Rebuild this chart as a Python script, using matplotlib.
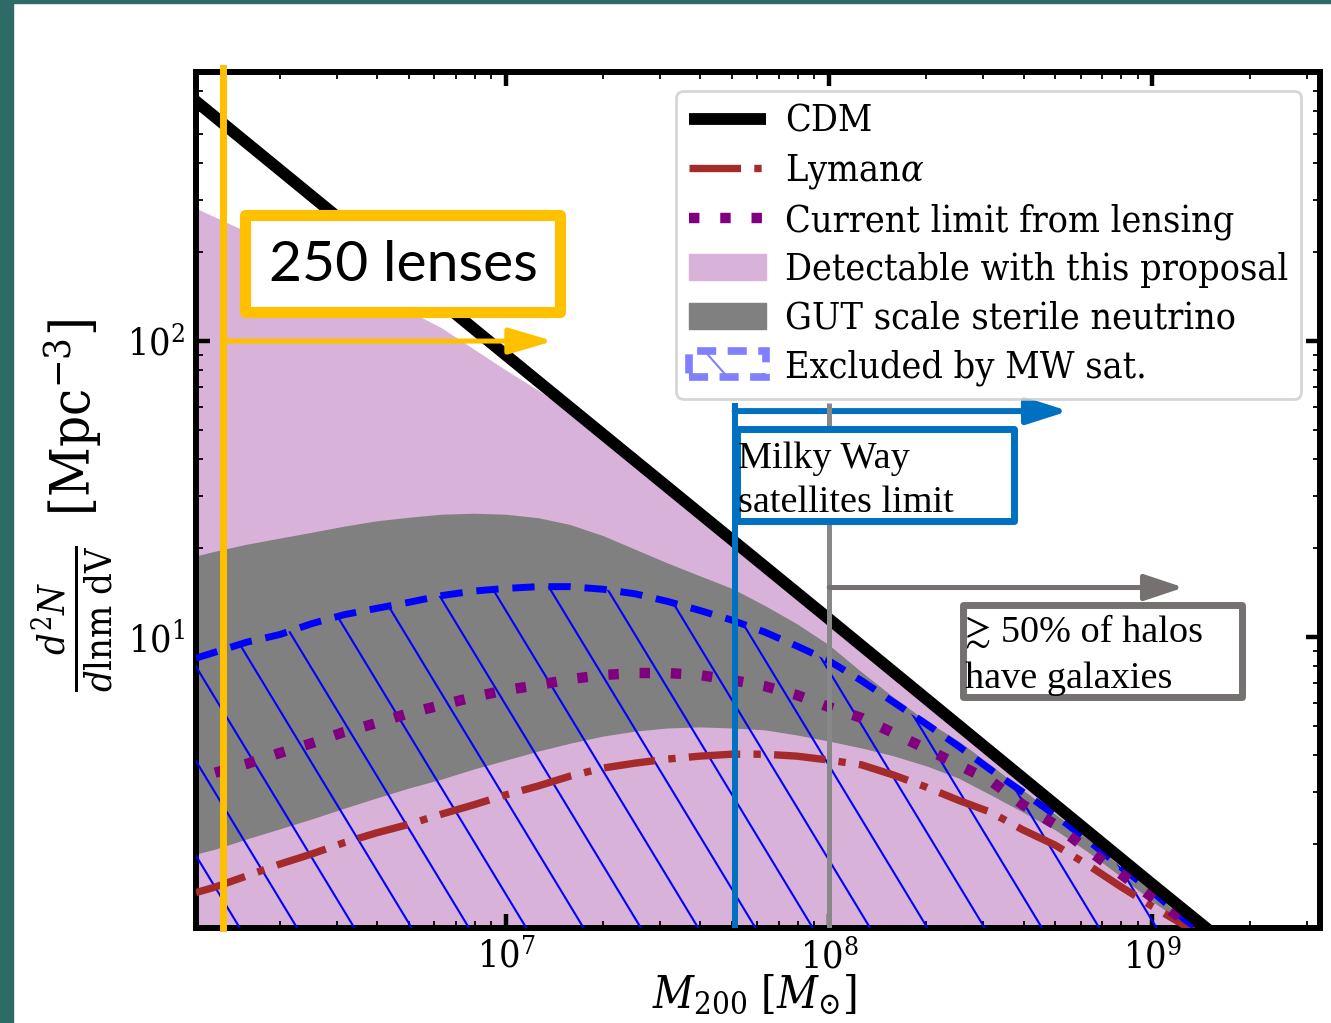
import numpy as np
import matplotlib
matplotlib.use("Agg")
import matplotlib.pyplot as plt
from matplotlib.patches import Rectangle, Patch
from matplotlib.lines import Line2D
from matplotlib.collections import LineCollection
from matplotlib.legend_handler import HandlerBase

plt.rcParams["font.family"] = ["DejaVu Serif"]
plt.rcParams["font.stretch"] = "condensed"
plt.rcParams["mathtext.fontset"] = "dejavuserif"

# ---------------- data ----------------
# halo mass grid [M_sun]
mass = [1.1e6, 1.26e6, 1.58e6, 2.0e6, 2.51e6, 3.16e6, 3.98e6, 5.01e6, 6.31e6, 7.94e6,
        1.0e7, 1.26e7, 1.58e7, 2.0e7, 2.51e7, 3.16e7, 3.98e7, 5.01e7, 6.31e7, 7.94e7,
        1.0e8, 1.26e8, 1.58e8, 2.0e8, 2.51e8, 3.16e8, 3.98e8, 5.01e8, 6.31e8, 7.94e8,
        1.0e9, 1.26e9, 1.41e9]

# CDM mass function (power law)
cdm_mass = [1e6, 1e7, 1e8, 1e9, 2e9]
cdm = [703, 89.7, 11.5, 1.46, 0.79]

# Lyman-alpha forest bound
lyman_alpha = [1.37, 1.43, 1.56, 1.71, 1.85, 2.02, 2.18, 2.33, 2.52, 2.71,
               2.93, 3.14, 3.39, 3.61, 3.75, 3.87, 3.96, 4.02, 4.02, 3.96,
               3.84, 3.70, 3.42, 3.11, 2.81, 2.56, 2.23, 1.98, 1.70, 1.44,
               1.23, 1.06, 0.98]

# current limit from strong lensing (starts at the second grid mass)
lensing_limit = [3.48, 3.73, 4.06, 4.38, 4.78, 5.12, 5.53, 5.89, 6.27,
                 6.62, 6.88, 7.21, 7.44, 7.56, 7.56, 7.44, 7.16, 6.83, 6.37,
                 5.80, 5.33, 4.74, 4.19, 3.70, 3.27, 2.71, 2.32, 1.91, 1.59,
                 1.32, 1.10, 1.01]

# Milky Way satellite exclusion
mw_sat = [8.49, 8.89, 9.61, 10.2, 11.1, 11.9, 12.5, 13.1, 13.8, 14.3,
          14.6, 14.8, 14.8, 14.5, 14.0, 13.2, 12.3, 11.4, 10.4, 9.33,
          8.30, 7.12, 6.03, 5.08, 4.28, 3.56, 2.99, 2.50, 2.06, 1.68,
          1.38, 1.11, 1.02]

# GUT-scale sterile neutrino band
gut_hi = [18.8, 19.5, 20.6, 21.6, 22.6, 23.7, 24.7, 25.4, 26.0, 26.2,
          26.0, 25.3, 24.0, 22.0, 19.8, 17.8, 16.1, 14.6, 12.8, 11.1,
          9.40, 7.62, 6.27, 5.20, 4.46, 3.70, 3.04, 2.52, 2.08, 1.68,
          1.38, 1.11, 1.00]
gut_lo = [1.85, 1.92, 2.08, 2.25, 2.43, 2.64, 2.86, 3.09, 3.31, 3.58,
          3.84, 4.12, 4.38, 4.63, 4.81, 4.93, 4.97, 4.93, 4.86, 4.67,
          4.45, 4.22, 3.97, 3.67, 3.34, 2.93, 2.56, 2.23, 1.88, 1.56,
          1.28, 1.07, 0.99]

# region detectable with the proposed survey
detect_mass = [1.1e6, 1.58e6, 2.51e6, 3.98e6, 6.31e6, 1.0e7, 1.26e7, 1.58e7,
               2.51e7, 3.98e7, 6.31e7, 1.0e8, 1.58e8, 2.51e8, 3.98e8, 6.31e8,
               1.0e9, 1.58e9]
detectable = [281, 234, 184, 144, 111, 79.8, 68.2, 57.2,
              37.8, 25.0, 16.6, 11.0, 7.29, 4.83, 3.20, 2.12,
              1.40, 0.93]

# limits marked on the plot
lens_mass_limit = 1.33e6
mw_mass_limit = 5.1e7
galaxy_mass_limit = 1.0e8

x_range = (1.1e6, 3.3e9)
y_range = (1.04, 811)

# ---------------- colours ----------------
PINK = "#d9b2d9"
GUT = "#808080"
YELLOW = "#ffc000"
SLIDE_BLUE = "#0070c0"
SLIDE_GRAY = "#767171"
TEAL = "#2f6b66"

fig = plt.figure(figsize=(13.31, 10.23), dpi=100)
fig.patch.set_facecolor("white")
ax = fig.add_axes([196 / 1331, 1 - 928 / 1023, 1124 / 1331, 856 / 1023])
ax.set_xscale("log")
ax.set_yscale("log")
ax.set_xlim(*x_range)
ax.set_ylim(*y_range)

floor = 0.5
ax.fill_between(detect_mass, floor, detectable, color=PINK, lw=0, zorder=1)
ax.fill_between(mass, gut_lo, gut_hi, color=GUT, lw=0, zorder=2)

# sparse diagonal hatching under the MW-satellite curve
hatch_region = ax.fill_between(mass, floor, mw_sat, facecolor="none",
                               edgecolor="none", zorder=3)
fw, fh = fig.get_size_inches() * fig.dpi
pos = ax.get_position()
ax_w, ax_h = pos.width * fw, pos.height * fh
steep = 1.65
step = 57.3 / ax_w
shift = ax_h / steep / ax_w
starts = 0.039 + step * np.arange(-1, 32)
segs = [[(b, 0.0), (b - shift, 1.0)] for b in starts]
hatch = LineCollection(segs, transform=ax.transAxes, colors="blue",
                       linewidths=1.5, zorder=3)
ax.add_collection(hatch, autolim=False)
hatch.set_clip_path(hatch_region.get_paths()[0], ax.transData)

ln_lya, = ax.plot(mass, lyman_alpha, color="brown", lw=5.3,
                  dashes=(7, 1.8, 1, 1.8), zorder=4)
ln_mw, = ax.plot(mass, mw_sat, color="blue", lw=5,
                 dashes=(3.2, 2.0), zorder=4)
ln_lens, = ax.plot(mass[1:], lensing_limit, color="purple", lw=7.5,
                   dashes=(1, 2.0), dash_capstyle="butt", zorder=4)
ln_cdm, = ax.plot(cdm_mass, cdm, color="black", lw=8.5,
                  solid_capstyle="butt", zorder=4)

# axes styling
for s in ax.spines.values():
    s.set_linewidth(4.3)
ax.tick_params(which="both", direction="in", top=True, right=True)
ax.tick_params(which="major", length=10, width=3.2, labelsize=27, pad=8)
ax.tick_params(which="minor", length=5, width=1.3)

ax.set_xlabel(r"$M_{200}\ [M_{\odot}]$", fontsize=32)
ax.xaxis.set_label_coords(0.497, -0.052)
ax.set_ylabel(r"$\frac{d^2N}{d\mathrm{lnm\ dV}}\;\;[\mathrm{Mpc}^{-3}]$",
              fontsize=39)
ax.yaxis.set_label_coords(-0.071, 0.493)

# ---------------- slide annotations ----------------
ax.axvline(lens_mass_limit, ymin=0, ymax=1.005, color=YELLOW, lw=5,
           clip_on=False, zorder=7)
ax.annotate("", xy=(1.4e7, 100), xytext=(lens_mass_limit, 100),
            arrowprops=dict(arrowstyle="-|>,head_length=2.7,head_width=0.8",
                            color=YELLOW, lw=3.6, shrinkA=0, shrinkB=0,
                            mutation_scale=10), zorder=7)
ax.add_patch(Rectangle((0.0436, 0.7196), 0.2802, 0.1133, transform=ax.transAxes,
                       facecolor="white", edgecolor=YELLOW, lw=8,
                       joinstyle="round", zorder=8))
ax.text(0.1842, 0.7745, "250 lenses", transform=ax.transAxes, ha="center",
        va="center", family="Lato", fontsize=41, zorder=9)

ax.vlines(mw_mass_limit, floor, 62, color=SLIDE_BLUE, lw=4.3, zorder=7)
ax.annotate("", xy=(5.5e8, 58), xytext=(mw_mass_limit, 58),
            arrowprops=dict(arrowstyle="-|>,head_length=2.5,head_width=0.8",
                            color=SLIDE_BLUE, lw=4.3, shrinkA=0, shrinkB=0,
                            mutation_scale=10), zorder=7)
ax.add_patch(Rectangle((0.4809, 0.4749), 0.2473, 0.1075, transform=ax.transAxes,
                       facecolor="white", edgecolor=SLIDE_BLUE, lw=5,
                       joinstyle="round", zorder=8))
serif_slide = dict(family=["Liberation Serif", "STIXGeneral"], fontsize=27.5,
                   stretch="normal")
ax.text(0.4822, 0.5374, "Milky Way", transform=ax.transAxes, va="baseline",
        zorder=9, **serif_slide)
ax.text(0.4822, 0.4860, "satellites limit", transform=ax.transAxes,
        va="baseline", zorder=9, **serif_slide)

ax.vlines(galaxy_mass_limit, floor, 62, color="#888888", lw=3.6, zorder=7)
ax.annotate("", xy=(1.25e9, 14.7), xytext=(galaxy_mass_limit, 14.7),
            arrowprops=dict(arrowstyle="-|>,head_length=2.4,head_width=0.8",
                            color=SLIDE_GRAY, lw=3.6, shrinkA=0, shrinkB=0,
                            mutation_scale=10), zorder=7)
ax.add_patch(Rectangle((0.6828, 0.2704), 0.2482, 0.1075, transform=ax.transAxes,
                       facecolor="white", edgecolor=SLIDE_GRAY, lw=5,
                       joinstyle="round", zorder=8))
ax.text(0.6842, 0.3341, "\u2273 50% of halos", transform=ax.transAxes,
        va="baseline", zorder=9, **serif_slide)
ax.text(0.6842, 0.2804, "have galaxies", transform=ax.transAxes,
        va="baseline", zorder=9, **serif_slide)


# ---------------- legend ----------------
class HatchBoxHandler(HandlerBase):
    def create_artists(self, legend, orig_handle, xdescent, ydescent, width,
                       height, fontsize, trans):
        x0, y0 = -xdescent, -ydescent
        ec = orig_handle.get_edgecolor()
        frame = Rectangle((x0, y0), width, height,
                          facecolor="none", edgecolor=ec, lw=5.5,
                          linestyle=(0, (2.5, 1.5)), transform=trans)
        stroke = Line2D([x0 + 0.2 * width, x0 + 0.5 * width],
                        [y0 + height, y0], color=ec,
                        lw=1.5, transform=trans)
        return [frame, stroke]


mw_handle = Patch(facecolor="none", edgecolor=(0.5, 0.5, 1.0))
handles = [ln_cdm, ln_lya, ln_lens, Patch(color=PINK), Patch(color=GUT), mw_handle]
labels = ["CDM", r"Lyman$\alpha$", "Current limit from lensing",
          "Detectable with this proposal", "GUT scale sterile neutrino",
          "Excluded by MW sat."]
leg = ax.legend(handles, labels, loc="upper right",
                prop=dict(family="DejaVu Serif", stretch="condensed", size=27),
                handlelength=2.05, handletextpad=0.5, labelspacing=0.33,
                borderpad=0.35, framealpha=0.8, edgecolor="0.8",
                handler_map={mw_handle: HatchBoxHandler()})
leg.get_frame().set_linewidth(2)
leg.set_zorder(10)

# slide background strips
fig.add_artist(Rectangle((0, 0), 13 / 1331, 1, transform=fig.transFigure,
                         color=TEAL, zorder=20))
fig.add_artist(Rectangle((0, 1 - 3 / 1023), 1, 3 / 1023,
                         transform=fig.transFigure, color=TEAL, zorder=20))

fig.savefig("out.png", dpi=100)
